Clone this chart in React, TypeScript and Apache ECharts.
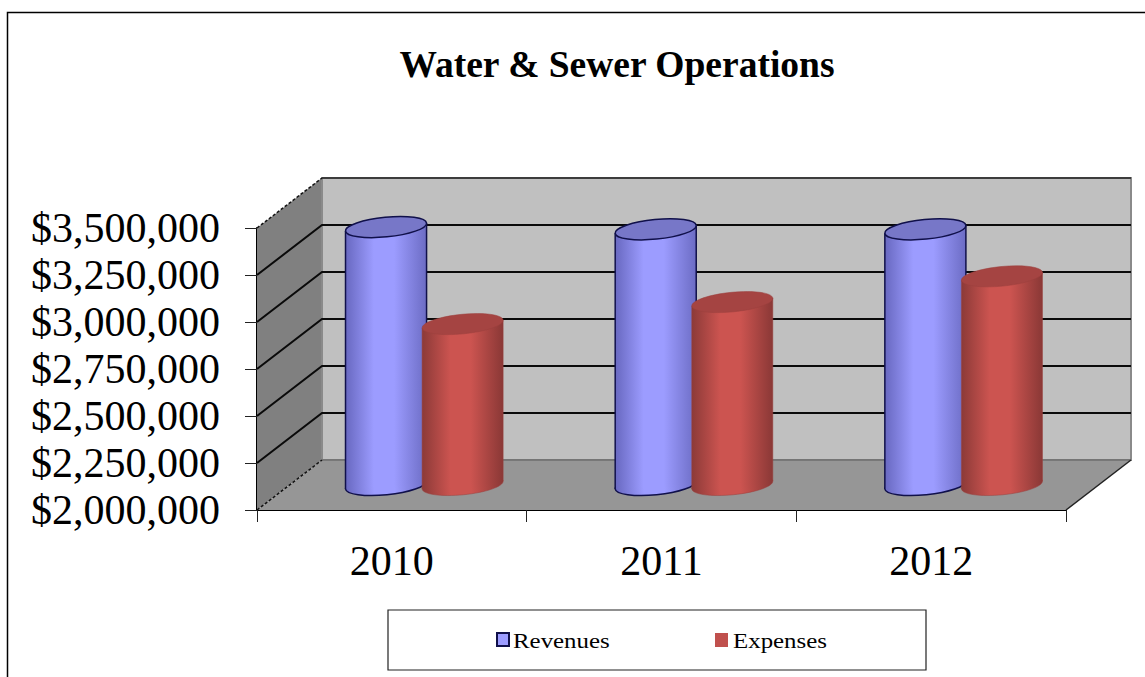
import React, { useEffect, useRef } from "react";
import * as echarts from "echarts";

const categories = ["2010", "2011", "2012"];
const revenues = [3372000, 3360000, 3360000];
const expenses = [2856000, 2973000, 3110000];
const yTicks = [2000000, 2250000, 2500000, 2750000, 3000000, 3250000, 3500000];

const SERIF = "'Liberation Serif', 'Times New Roman', serif";
// Depth of the 3D box: how far the back wall sits from the front plane.
const DEPTH_X = 65;
const DEPTH_Y = -50;

const formatDollars = (v: number) => "$" + v.toLocaleString("en-US");

const wallSeries = {
  type: "custom",
  silent: true,
  coordinateSystem: "cartesian2d",
  data: [[0, yTicks[0]]],
  encode: { x: 0, y: 1 },
  renderItem: (params: any) => {
    const c = params.coordSys;
    const l = c.x;
    const r = c.x + c.width;
    const t = c.y;
    const b = c.y + c.height;
    const dashed = { stroke: "#111", lineWidth: 1.5, lineDash: [3, 2] };
    return {
      type: "group",
      children: [
        {
          type: "polygon",
          shape: { points: [[l, t], [l + DEPTH_X, t + DEPTH_Y], [l + DEPTH_X, b + DEPTH_Y], [l, b]] },
          style: { fill: "#808080" },
        },
        {
          type: "rect",
          shape: { x: l + DEPTH_X, y: t + DEPTH_Y, width: c.width, height: c.height },
          style: { fill: "#c0c0c0", stroke: "#8a8a8a", lineWidth: 2 },
        },
        {
          type: "polygon",
          shape: { points: [[l, b], [r, b], [r + DEPTH_X, b + DEPTH_Y], [l + DEPTH_X, b + DEPTH_Y]] },
          style: { fill: "#969696" },
        },
        { type: "line", shape: { x1: l + DEPTH_X, y1: b + DEPTH_Y, x2: r + DEPTH_X, y2: b + DEPTH_Y }, style: { stroke: "#6e6e6e", lineWidth: 1.5 } },
        { type: "line", shape: { x1: l, y1: t, x2: l + DEPTH_X, y2: t + DEPTH_Y }, style: dashed },
        { type: "line", shape: { x1: l, y1: b, x2: l + DEPTH_X, y2: b + DEPTH_Y }, style: dashed },
        { type: "line", shape: { x1: r, y1: b, x2: r + DEPTH_X, y2: b + DEPTH_Y }, style: { stroke: "#222", lineWidth: 1.5 } },
        { type: "line", shape: { x1: l + DEPTH_X, y1: t + DEPTH_Y, x2: r + DEPTH_X, y2: t + DEPTH_Y }, style: { stroke: "#222", lineWidth: 1.5 } },
      ],
    };
  },
};

// Gridlines run along the side wall and then across the back wall.
const gridSeries = {
  type: "custom",
  silent: true,
  coordinateSystem: "cartesian2d",
  data: yTicks.slice(1, -1).map((v) => [0, v]),
  encode: { x: 0, y: 1 },
  renderItem: (params: any, api: any) => {
    const c = params.coordSys;
    const y = api.coord([0, api.value(1)])[1];
    return {
      type: "polyline",
      shape: { points: [[c.x, y], [c.x + DEPTH_X, y + DEPTH_Y], [c.x + DEPTH_X + c.width, y + DEPTH_Y]] },
      style: { fill: "none", stroke: "#0a0a0a", lineWidth: 2 },
    };
  },
};

type Palette = { edgeL: string; mid: string; edgeR: string; top: string; outline: string; outlineWidth: number };

// Upright cylinder standing halfway into the box, with slightly tilted elliptical ends.
function cylinderSeries(name: string, values: number[], slot: number, pal: Palette) {
  return {
    type: "custom",
    name,
    silent: true,
    coordinateSystem: "cartesian2d",
    data: values.map((v, i) => [i, v]),
    encode: { x: 0, y: 1 },
    renderItem: (params: any, api: any) => {
      const band = api.size([1, 0])[0];
      const [px, py] = api.coord([api.value(0), api.value(1)]);
      const y0 = api.coord([api.value(0), yTicks[0]])[1];
      const cx = px + DEPTH_X / 2 + slot * band * 0.142;
      const yt = py + DEPTH_Y / 2;
      const yb = y0 + DEPTH_Y / 2;
      const rx = band * 0.151;
      const ry = 9.8;
      const angle = (5.6 * Math.PI) / 180;
      const dx = rx * Math.cos(angle);
      const dy = rx * Math.sin(angle);
      const gradient = () =>
        new echarts.graphic.LinearGradient(0, 0, 1, 0, [
          { offset: 0, color: pal.edgeL },
          { offset: 0.35, color: pal.mid },
          { offset: 0.6, color: pal.mid },
          { offset: 1, color: pal.edgeR },
        ]);
      const edge = { stroke: pal.outline, lineWidth: pal.outlineWidth };
      return {
        type: "group",
        children: [
          { type: "ellipse", x: cx, y: yb, rotation: angle, shape: { cx: 0, cy: 0, rx, ry }, style: { fill: gradient(), ...edge } },
          {
            type: "polygon",
            shape: { points: [[cx - dx, yt + dy], [cx - dx, yb + dy], [cx + dx, yb - dy], [cx + dx, yt - dy]] },
            style: { fill: gradient() },
          },
          { type: "line", shape: { x1: cx - dx, y1: yt + dy, x2: cx - dx, y2: yb + dy }, style: edge },
          { type: "line", shape: { x1: cx + dx, y1: yt - dy, x2: cx + dx, y2: yb - dy }, style: edge },
          { type: "ellipse", x: cx, y: yt, rotation: angle, shape: { cx: 0, cy: 0, rx, ry }, style: { fill: pal.top, ...edge } },
        ],
      };
    },
  };
}

const blue: Palette = { edgeL: "#6868c0", mid: "#9c9cff", edgeR: "#6c6cc4", top: "#7777c8", outline: "#10104a", outlineWidth: 1.5 };
const red: Palette = { edgeL: "#8c3a38", mid: "#cc5450", edgeR: "#8a3836", top: "#a54442", outline: "#9a403e", outlineWidth: 0.5 };

export default function App() {
  const ref = useRef<HTMLDivElement>(null);

  useEffect(() => {
    document.body.style.margin = "0";
    const chart = echarts.init(ref.current!, null, { renderer: "svg" });
    chart.setOption({
      animation: false,
      backgroundColor: "#ffffff",
      textStyle: { fontFamily: SERIF },
      title: {
        text: "Water & Sewer Operations",
        left: 612,
        top: 40,
        textAlign: "center",
        textStyle: { fontFamily: SERIF, fontSize: 37.5, fontWeight: "bold", color: "#000" },
      },
      grid: { left: 257, top: 228, width: 809, height: 282, containLabel: false },
      xAxis: {
        type: "category",
        data: categories,
        boundaryGap: true,
        axisLine: { lineStyle: { color: "#000", width: 2 } },
        axisTick: { show: true, length: 12, alignWithLabel: false, lineStyle: { color: "#222", width: 1 } },
        axisLabel: { margin: 30, fontFamily: SERIF, fontSize: 42, color: "#000" },
      },
      yAxis: {
        type: "value",
        min: 2000000,
        max: 3500000,
        interval: 250000,
        splitLine: { show: false },
        axisLine: { show: true, lineStyle: { color: "#000", width: 2 } },
        axisTick: { show: true, length: 12, lineStyle: { color: "#222", width: 1 } },
        axisLabel: { margin: 37, padding: [5, 0, 0, 0], fontFamily: SERIF, fontSize: 42, color: "#000", formatter: formatDollars },
      },
      series: [
        wallSeries,
        gridSeries,
        cylinderSeries("Revenues", revenues, -1, blue),
        cylinderSeries("Expenses", expenses, 1, red),
      ],
      graphic: [
        // Chart frame: open at the right and bottom edges.
        { type: "polyline", silent: true, shape: { points: [[7.5, 677], [7.5, 12.5], [1145, 12.5]] }, style: { fill: "none", stroke: "#000", lineWidth: 1.5 } },
        // Legend box
        { type: "rect", silent: true, shape: { x: 388, y: 610, width: 538, height: 60 }, style: { fill: "#fff", stroke: "#222", lineWidth: 1.2 } },
        { type: "rect", silent: true, shape: { x: 497, y: 633, width: 12, height: 13 }, style: { fill: "#9c9cff", stroke: "#10104a", lineWidth: 2 } },
        { type: "text", silent: true, x: 513, y: 641, scaleX: 1.185, style: { text: "Revenues", font: `21px ${SERIF}`, fill: "#000", textVerticalAlign: "middle" } },
        { type: "rect", silent: true, shape: { x: 715, y: 633, width: 13, height: 14 }, style: { fill: "#c0504d" } },
        { type: "text", silent: true, x: 733, y: 641, scaleX: 1.185, style: { text: "Expenses", font: `21px ${SERIF}`, fill: "#000", textVerticalAlign: "middle" } },
      ],
    });
    return () => chart.dispose();
  }, []);

  return <div ref={ref} style={{ width: 1145, height: 677 }} />;
}
